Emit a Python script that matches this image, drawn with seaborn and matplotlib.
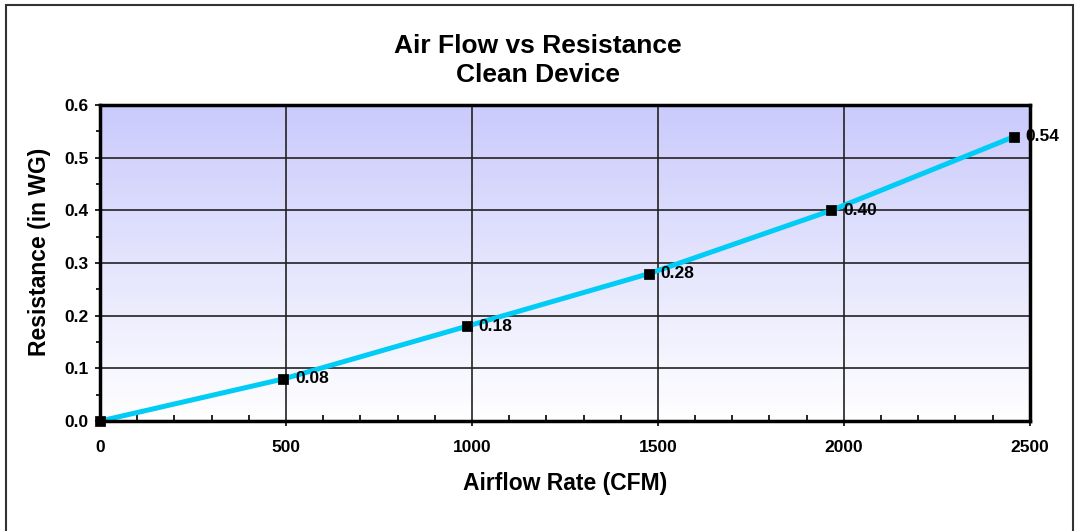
import numpy as np
import pandas as pd
import matplotlib
matplotlib.use("Agg")
import matplotlib.pyplot as plt
import seaborn as sns
from matplotlib.patches import Rectangle
from matplotlib.colors import LinearSegmentedColormap
from matplotlib.ticker import MultipleLocator, FormatStrFormatter

# --- dados ---
vazao_cfm = [0, 493, 986, 1476, 1966, 2457]
resistencia = [0.0, 0.08, 0.18, 0.28, 0.40, 0.54]
rotulos = ["", "0.08", "0.18", "0.28", "0.40", "0.54"]

titulo = "Air Flow vs Resistance\nClean Device"
rotulo_x = "Airflow Rate (CFM)"
rotulo_y = "Resistance (in WG)"

cor_linha = "#00ccf5"
cor_topo = "#cacafc"

sns.set_style("white")
plt.rcParams["font.family"] = ["Liberation Sans", "DejaVu Sans"]
plt.rcParams["font.weight"] = "bold"
plt.rcParams["text.color"] = "black"
plt.rcParams["axes.labelcolor"] = "black"
plt.rcParams["xtick.color"] = "black"
plt.rcParams["ytick.color"] = "black"
plt.rcParams["xtick.bottom"] = True
plt.rcParams["ytick.left"] = True

df = pd.DataFrame({"x": vazao_cfm, "y": resistencia})

fig = plt.figure(figsize=(10.75, 5.31), dpi=100)
ax = fig.add_axes([0.093, 0.207, 0.865, 0.595])

# moldura externa
fig.patches.append(Rectangle((0.006, -0.05), 0.992, 1.04, transform=fig.transFigure,
                             fill=False, edgecolor="#333333", linewidth=1.5))

# fundo em degradê
cmap = LinearSegmentedColormap.from_list("fundo", ["#ffffff", cor_topo])
grad = np.linspace(0, 1, 256).reshape(-1, 1)
ax.imshow(grad, aspect="auto", cmap=cmap, origin="lower",
          extent=[0, 2500, 0, 0.6], zorder=0)

sns.lineplot(data=df, x="x", y="y", ax=ax, color=cor_linha, linewidth=3.6,
             zorder=3, legend=False)
sns.scatterplot(data=df, x="x", y="y", ax=ax, marker="s", s=42, color="black",
                edgecolor="black", zorder=4, legend=False, clip_on=False)

for xv, yv, txt in zip(vazao_cfm, resistencia, rotulos):
    if txt:
        ax.annotate(txt, (xv, yv), xytext=(8.5, 0), textcoords="offset points",
                    va="center", ha="left", fontsize=12.5, fontweight="bold",
                    zorder=5, annotation_clip=False)

ax.set_xlim(0, 2500)
ax.set_ylim(0, 0.6)
ax.xaxis.set_major_locator(MultipleLocator(500))
ax.xaxis.set_minor_locator(MultipleLocator(100))
ax.yaxis.set_major_locator(MultipleLocator(0.1))
ax.yaxis.set_minor_locator(MultipleLocator(0.05))
ax.yaxis.set_major_formatter(FormatStrFormatter("%.1f"))

ax.grid(True, which="major", color="#222222", linewidth=1.2, zorder=1)
ax.set_axisbelow(False)
for sp in ax.spines.values():
    sp.set_linewidth(2.5)
    sp.set_color("black")
    sp.set_zorder(6)

ax.tick_params(axis="both", which="major", direction="out", length=3.5, width=1.2,
               labelsize=12.5)
ax.tick_params(axis="x", which="major", pad=10)
ax.tick_params(axis="y", which="major", pad=5)
ax.tick_params(axis="x", which="minor", direction="in", length=4, width=1.2, bottom=True)
ax.tick_params(axis="y", which="minor", direction="out", length=3, width=1.2, left=True)
for lab in ax.get_xticklabels() + ax.get_yticklabels():
    lab.set_fontweight("bold")

ax.set_xlabel(rotulo_x, fontsize=16.5, fontweight="bold")
ax.set_ylabel(rotulo_y, fontsize=16.5, fontweight="bold")
ax.xaxis.label.set_va("center")
ax.yaxis.label.set_va("center")
ax.xaxis.set_label_coords(0.5, -0.196)
ax.yaxis.set_label_coords(-0.065, 0.535)

fig.text(0.5, 0.886, titulo, ha="center", va="center", fontsize=19,
         fontweight="bold", linespacing=1.3)

fig.savefig("out.png", dpi=100)
